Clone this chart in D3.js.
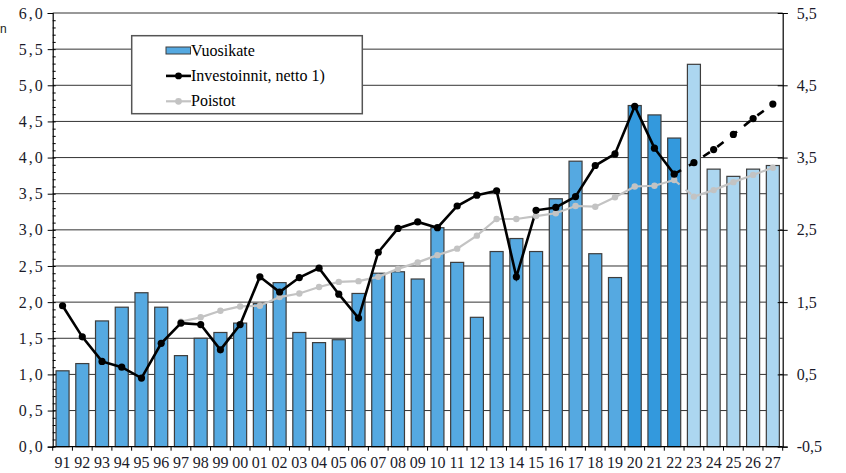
<!DOCTYPE html>
<html>
<head>
<meta charset="utf-8">
<script src="https://cdn.jsdelivr.net/npm/d3@7"></script>
<style>
	body { margin: 0; background: #fff; }
</style>
</head>
<body>
<svg id="chart" width="846" height="473" font-family="'Liberation Serif'"></svg>
<script>
// data (lines given in left-axis units)
const years = ["91", "92", "93", "94", "95", "96", "97", "98", "99", "00", "01", "02", "03", "04", "05", "06", "07", "08", "09",
	"10", "11", "12", "13", "14", "15", "16", "17", "18", "19", "20", "21", "22", "23", "24", "25", "26", "27"];

const vuosikate = [1.05, 1.15, 1.74, 1.93, 2.13, 1.93, 1.26, 1.50, 1.58, 1.71, 1.98, 2.27, 1.58, 1.44, 1.48, 2.12, 2.40, 2.42, 2.32,
	3.03, 2.55, 1.79, 2.70, 2.88, 2.70, 3.43, 3.95, 2.67, 2.34, 4.72, 4.59, 4.27, 5.29, 3.84, 3.74, 3.84, 3.89];

const investoinnit = [1.95, 1.52, 1.18, 1.10, 0.95, 1.43, 1.71, 1.69, 1.34, 1.69, 2.35, 2.14, 2.34, 2.47, 2.11, 1.78, 2.69, 3.02, 3.11,
	3.03, 3.33, 3.48, 3.54, 2.35, 3.27, 3.31, 3.46, 3.89, 4.05, 4.71, 4.13, 3.77, 3.93, 4.11, 4.32, 4.54, 4.74];

const poistot = [null, null, null, null, null, null, 1.73, 1.79, 1.88, 1.94, 1.95, 2.07, 2.12, 2.21, 2.28, 2.29, 2.35, 2.46, 2.55,
	2.65, 2.74, 2.92, 3.15, 3.15, 3.19, 3.23, 3.33, 3.32, 3.45, 3.60, 3.61, 3.69, 3.46, 3.55, 3.66, 3.76, 3.86];

const leftTicks = [0, 0.5, 1, 1.5, 2, 2.5, 3, 3.5, 4, 4.5, 5, 5.5, 6];
const rightTicks = [-0.5, 0.5, 1.5, 2.5, 3.5, 4.5, 5.5];
const legendLabels = ["Vuosikate", "Investoinnit, netto 1)", "Poistot"];

const SERIF = '"Liberation Serif"';
const svg = d3.select("#chart");
const plot = { left: 52.7, right: 782.7, top: 13, bottom: 446.7 };
const fmt = (d) => d.toFixed(1).replace(".", ",");

let x = d3.scaleBand()
	.domain(years)
	.range([plot.left, plot.right])
	.paddingInner(0.34)
	.paddingOuter(0.17);

let y = d3.scaleLinear().domain([0, 6]).range([plot.bottom, plot.top]);
let yRight = d3.scaleLinear().domain([-0.5, 5.5]).range([plot.bottom, plot.top]);

const cx = (i) => x(years[i]) + x.bandwidth() / 2;

// gridlines
svg.append("g")
	.selectAll("line")
	.data(leftTicks.filter((d) => d > 0))
	.join("line")
	.attr("x1", plot.left)
	.attr("x2", plot.right)
	.attr("y1", (d) => y(d))
	.attr("y2", (d) => y(d))
	.attr("stroke", "#333")
	.attr("stroke-width", 1);

// bars
const barColor = (i) => {
	let yr = +years[i];
	if (yr >= 23 && yr < 90) return "#acd6f0";
	if (yr >= 20 && yr < 90) return "#3399dd";
	return "#55a9e1";
};

svg.append("g")
	.selectAll("rect")
	.data(vuosikate)
	.join("rect")
	.attr("x", (d, i) => x(years[i]))
	.attr("y", (d) => y(d))
	.attr("width", x.bandwidth())
	.attr("height", (d) => y(0) - y(d))
	.attr("fill", (d, i) => barColor(i))
	.attr("stroke", "#3d3d3d")
	.attr("stroke-width", 1.2);

// lines
let line = d3.line()
	.defined((d) => d.v != null)
	.x((d) => cx(d.i))
	.y((d) => y(d.v));

const inv = investoinnit.map((v, i) => ({ v, i }));
const poi = poistot.map((v, i) => ({ v, i }));
const i22 = years.indexOf("22");
const i23 = years.indexOf("23");

let linesG = svg.append("g").attr("fill", "none");

linesG.append("path")
	.attr("d", line(poi.slice(0, i22 + 1)))
	.attr("stroke", "#c3c3c3")
	.attr("stroke-width", 2.2);
linesG.append("path")
	.attr("d", line(poi.slice(i22, i23 + 1)))
	.attr("stroke", "#c3c3c3")
	.attr("stroke-width", 2.2)
	.attr("stroke-dasharray", "7,8");
linesG.append("path")
	.attr("d", line(poi.slice(i23)))
	.attr("stroke", "#c3c3c3")
	.attr("stroke-width", 2.2);

svg.append("g")
	.selectAll("circle")
	.data(poi.filter((d) => d.v != null))
	.join("circle")
	.attr("cx", (d) => cx(d.i))
	.attr("cy", (d) => y(d.v))
	.attr("r", 3.2)
	.attr("fill", "#c3c3c3");

linesG.append("path")
	.attr("d", line(inv.slice(0, i22 + 1)))
	.attr("stroke", "#000")
	.attr("stroke-width", 2.6);
linesG.append("path")
	.attr("d", line(inv.slice(i22)))
	.attr("stroke", "#000")
	.attr("stroke-width", 2.6)
	.attr("stroke-dasharray", "8,9");

svg.append("g")
	.selectAll("circle")
	.data(inv)
	.join("circle")
	.attr("cx", (d) => cx(d.i))
	.attr("cy", (d) => y(d.v))
	.attr("r", 3.6)
	.attr("fill", "#000");

// left axis
let leftAxis = svg.append("g")
	.attr("transform", `translate(${plot.left},0)`)
	.call(d3.axisLeft(y).tickValues(leftTicks).tickFormat(fmt).tickSize(5).tickPadding(3));

svg.append("g")
	.attr("transform", `translate(${plot.left},0)`)
	.call(d3.axisLeft(y).tickValues(d3.range(0, 60).map((d) => d / 10)).tickFormat("").tickSize(-3))
	.call((g) => g.select(".domain").remove());

// right axis
let rightAxis = svg.append("g")
	.attr("transform", `translate(${plot.right},0)`)
	.call(d3.axisRight(yRight).tickValues(rightTicks).tickFormat(fmt).tickSize(5).tickPadding(9));
rightAxis.selectAll(".tick line").attr("x1", -5);

// bottom axis
let bottomAxis = svg.append("g")
	.attr("transform", `translate(0,${plot.bottom})`)
	.call(d3.axisBottom(x).tickSize(0).tickPadding(10));
bottomAxis.selectAll(".tick line").remove();
bottomAxis.append("g")
	.selectAll("line")
	.data(d3.range(years.length + 1))
	.join("line")
	.attr("x1", (d) => plot.left + d * x.step())
	.attr("x2", (d) => plot.left + d * x.step())
	.attr("y1", 0)
	.attr("y2", 4)
	.attr("stroke", "#000");

[leftAxis, rightAxis, bottomAxis].forEach((g) => {
	g.attr("font-family", null).attr("font-size", null);
	g.select(".domain").attr("stroke", "#000").attr("stroke-width", 1.2);
	g.selectAll("text")
		.style("font-family", SERIF)
		.style("font-size", "16px")
		.attr("fill", "#1a1a2a");
});
leftAxis.selectAll("text").style("letter-spacing", "2px");
bottomAxis.select(".domain").attr("d", `M${plot.left},0H${plot.right}`);

// unit label, cut off in the source
svg.append("text")
	.attr("x", 0)
	.attr("y", 33)
	.style("font-family", '"Liberation Sans"')
	.style("font-size", "12px")
	.attr("fill", "#222")
	.text("n");

// legend
let legend = svg.append("g");
legend.append("rect")
	.attr("x", 131.7)
	.attr("y", 35.7)
	.attr("width", 230.6)
	.attr("height", 78)
	.attr("fill", "#fff")
	.attr("stroke", "#555")
	.attr("stroke-width", 1.5);

let items = legend.selectAll("g.item")
	.data(legendLabels)
	.join("g")
	.classed("item", true)
	.attr("transform", (d, i) => `translate(166, ${50.5 + i * 25.4})`);

items.filter((d, i) => i === 0)
	.append("rect")
	.attr("x", 0)
	.attr("y", -3.5)
	.attr("width", 24.5)
	.attr("height", 7)
	.attr("fill", "#55a9e1")
	.attr("stroke", "#3d3d3d")
	.attr("stroke-width", 1);

items.filter((d, i) => i > 0)
	.append("line")
	.attr("x1", 0)
	.attr("x2", 25)
	.attr("stroke", (d, i) => (i === 0 ? "#000" : "#c3c3c3"))
	.attr("stroke-width", (d, i) => (i === 0 ? 2.6 : 2.2));

items.filter((d, i) => i > 0)
	.append("circle")
	.attr("cx", 12.5)
	.attr("r", 3.4)
	.attr("fill", (d, i) => (i === 0 ? "#000" : "#c3c3c3"));

items.append("text")
	.attr("x", 25)
	.attr("y", 5)
	.style("font-family", SERIF)
	.style("font-size", "16px")
	.attr("fill", "#000")
	.text((d) => d);
</script>
</body>
</html>
